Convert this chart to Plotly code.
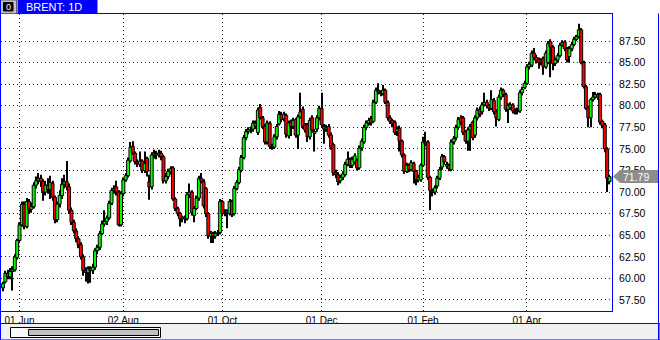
import plotly.graph_objects as go

# ---------------- data ----------------
opens = [58.9,59.6,60.6,60.2,60.8,61.0,62.4,64.4,66.2,68.6,66.0,68.9,68.0,68.3,70.8,71.3,71.6,71.2,70.0,70.8,
         70.3,71.0,69.4,66.8,68.6,69.6,70.9,71.2,70.6,67.9,66.5,65.5,64.6,63.9,62.5,60.9,60.7,61.1,60.9,61.3,
         63.2,63.6,65.2,66.3,
         66.6,67.0,68.7,70.2,70.6,70.0,66.2,69.8,71.4,71.9,73.6,75.3,74.5,73.5,73.2,73.6,72.5,73.9,71.2,70.6,
         74.3,74.5,74.3,74.5,74.1,71.3,71.8,72.4,72.8,69.2,68.1,67.5,66.9,67.1,66.9,69.7,70.0,67.3,68.1,69.3,
         71.6,71.2,
         70.4,67.5,64.9,65.2,64.9,65.2,65.3,68.9,67.5,67.6,67.5,68.9,67.5,70.4,71.1,72.5,74.0,76.3,77.0,77.2,
         77.3,78.0,76.9,79.8,78.6,77.6,75.8,78.0,75.3,75.2,76.4,77.9,79.0,78.5,78.9,76.5,78.1,77.6,78.4,76.6,
         78.7,79.6,
         77.8,77.8,76.4,78.6,76.8,77.3,78.6,79.7,77.6,77.3,77.6,76.6,75.5,72.3,72.0,71.3,71.7,72.0,73.2,73.8,
         73.1,73.5,73.7,72.8,75.1,75.8,77.5,78.0,78.5,78.2,80.4,81.8,81.6,81.4,81.8,80.4,78.6,78.3,78.1,77.0,
         77.4,75.9,
         74.3,72.4,73.1,72.6,73.3,72.4,71.4,71.4,73.1,75.8,75.8,71.7,70.2,70.0,70.7,71.6,72.9,74.1,73.0,73.1,
         72.6,75.8,76.3,77.5,78.6,78.6,77.0,75.9,77.2,78.1,76.6,78.6,79.6,79.3,80.1,80.4,80.0,79.7,80.6,79.3,
         78.4,81.0,81.8,81.3,
         79.6,79.8,80.1,79.4,79.3,79.4,81.5,82.1,82.6,84.5,84.7,86.1,85.6,85.4,85.3,85.5,84.5,85.0,87.4,86.8,
         84.9,85.3,85.8,87.0,87.4,86.6,85.7,86.6,87.1,87.7,88.0,88.8,85.0,82.2,79.8,78.6,80.7,81.0,81.3,81.3,
         78.2,77.8,75.0,71.2]
highs = [59.6,60.9,61.0,61.2,61.4,62.8,64.6,66.5,68.9,68.9,69.3,69.2,68.8,71.1,71.8,72.2,72.0,71.5,71.3,71.6,
         71.9,71.3,69.6,68.9,70.2,71.6,72.0,73.6,71.0,68.2,66.8,65.8,64.9,64.2,62.8,61.3,61.4,61.4,61.7,63.5,
         63.9,65.5,66.7,67.9,
         67.3,69.0,70.5,70.8,71.3,70.2,70.1,71.7,72.2,74.0,75.8,75.9,74.7,73.8,74.7,73.8,74.7,74.1,72.0,74.6,
         74.9,74.8,74.9,74.8,74.3,72.2,72.7,73.0,73.0,69.4,68.3,67.7,67.3,67.3,70.0,71.0,70.2,68.4,69.6,71.9,
         72.2,71.5,
         70.6,67.7,65.5,65.4,65.5,65.6,69.2,69.1,68.0,68.0,69.2,69.1,70.7,71.4,72.9,74.3,76.6,77.3,77.5,77.6,
         78.3,78.3,79.8,80.2,78.8,77.9,78.3,78.2,75.6,76.7,77.9,79.4,79.3,79.3,79.1,78.3,78.4,78.6,78.6,79.0,
         81.5,79.9,
         78.0,78.0,78.6,78.9,77.3,78.9,80.0,81.5,77.9,77.8,77.9,76.9,75.7,72.6,72.3,72.0,72.4,73.5,74.7,74.0,
         74.1,74.5,73.9,75.4,76.2,77.8,78.3,78.6,78.8,80.7,82.1,82.6,81.8,82.4,82.0,80.6,78.9,78.5,78.3,77.6,
         77.7,76.1,
         74.5,73.4,73.3,73.7,73.5,72.6,72.0,73.3,76.4,77.0,76.0,71.9,70.4,70.8,71.9,72.9,74.4,74.3,73.5,73.3,
         76.1,76.5,77.8,78.7,78.9,78.8,77.2,77.5,77.9,78.3,78.9,79.8,79.9,80.4,81.5,80.7,80.2,81.8,80.9,79.6,
         81.3,82.1,82.0,81.5,
         80.3,80.4,80.3,79.7,79.8,81.8,82.2,82.9,84.8,85.1,86.4,86.7,85.9,85.6,85.5,85.7,86.4,87.5,87.7,87.0,
         85.6,86.1,87.3,87.6,87.6,86.8,86.9,87.4,88.0,88.2,89.5,89.0,85.2,82.4,80.0,80.9,81.6,81.6,81.5,81.5,
         78.4,78.0,75.2,72.0]
lows = [58.5,59.4,59.9,59.9,58.6,60.8,62.2,64.2,66.0,65.7,65.8,67.5,67.6,68.1,70.4,70.9,70.6,69.0,69.6,69.8,
        69.2,69.0,66.4,66.5,68.2,69.2,70.4,70.2,67.5,66.2,65.2,64.2,63.5,62.2,60.3,59.6,59.4,59.5,60.5,61.0,
        62.8,63.3,65.0,66.0,
        66.2,66.8,68.5,69.8,69.6,66.0,66.0,69.5,71.2,71.7,73.4,74.3,73.2,72.9,72.9,72.2,72.2,71.8,69.1,70.3,
        73.9,73.8,74.0,73.7,71.0,71.0,71.5,72.0,69.0,67.8,67.2,66.0,66.5,66.4,66.7,69.3,67.3,66.5,67.9,69.0,
        71.0,68.1,
        67.1,64.6,64.1,64.1,64.6,64.9,65.1,67.2,67.2,65.8,67.3,67.1,67.3,70.2,70.9,72.3,73.8,76.0,76.7,76.8,
        77.0,77.3,76.6,78.4,77.3,75.5,75.5,75.0,74.9,75.0,76.1,77.7,78.1,78.2,76.3,76.2,76.5,77.3,76.3,75.0,
        78.5,77.3,
        76.9,75.8,76.1,76.9,74.7,77.0,78.3,77.5,75.6,77.0,76.3,74.9,71.9,71.6,70.8,71.0,71.4,71.8,73.0,72.8,
        72.8,73.2,72.5,72.6,74.8,75.6,77.2,77.7,77.7,78.0,80.2,81.3,81.1,81.2,80.2,78.3,77.9,77.5,76.6,76.5,
        74.7,74.0,
        72.1,72.2,72.3,72.4,71.0,70.8,71.1,71.2,72.9,75.3,71.4,67.9,69.5,69.7,70.4,71.4,72.6,73.2,72.7,72.4,
        72.4,75.5,76.0,77.2,77.8,76.6,75.6,74.8,74.8,76.0,76.3,78.3,78.7,79.0,79.9,79.7,79.4,79.5,79.0,77.6,
        78.2,80.7,81.0,79.3,
        78.0,79.5,79.1,79.0,79.0,79.2,81.2,81.9,82.4,84.2,84.5,85.3,84.9,84.3,84.7,83.6,84.3,84.8,83.3,84.1,
        84.6,85.0,85.6,86.8,86.3,85.0,85.0,86.3,86.9,87.5,87.8,84.8,82.0,79.5,77.5,77.5,80.5,80.8,80.7,77.8,
        77.4,74.6,70.0,70.9]
closes = [59.4,60.6,60.2,60.8,61.0,62.5,64.4,66.2,68.6,66.0,68.9,68.0,68.3,70.8,71.3,71.6,71.2,70.0,70.8,70.3,
          71.1,69.4,66.8,68.6,69.6,70.9,71.2,70.6,67.9,66.5,65.5,64.6,63.9,62.5,60.9,60.7,61.1,60.9,61.3,63.2,
          63.6,65.2,66.3,66.6,
          67.0,68.7,70.2,70.4,70.0,66.2,69.8,71.4,71.9,73.7,75.2,74.5,73.5,73.3,73.6,72.5,73.3,72.4,70.6,74.3,
          74.5,74.3,74.5,74.1,71.3,71.8,72.4,72.7,69.2,68.1,67.5,66.9,67.1,66.9,69.7,70.0,67.6,68.1,69.3,71.6,
          71.3,68.4,
          67.5,64.9,65.2,64.9,65.2,65.3,68.9,67.5,67.6,67.8,68.9,67.4,70.4,71.1,72.6,74.0,76.3,77.0,77.2,77.3,
          78.0,77.6,79.5,78.6,77.6,75.8,78.0,75.3,75.2,76.4,77.6,79.0,78.4,79.0,76.7,78.0,77.6,78.3,76.6,78.7,
          79.3,77.6,
          77.2,76.4,78.3,77.2,77.0,78.6,79.7,77.8,77.3,77.5,76.6,75.2,72.2,72.0,71.2,71.7,72.1,73.2,73.8,73.1,
          73.8,74.2,72.8,75.1,75.9,77.5,78.0,78.3,78.0,80.4,81.8,81.6,81.4,81.8,80.4,78.6,78.2,77.9,76.9,77.3,
          75.9,74.3,
          72.4,73.1,72.6,73.4,72.4,71.4,71.7,73.1,75.8,75.6,71.7,70.2,70.0,70.5,71.6,72.6,74.1,73.5,73.2,72.7,
          75.8,76.2,77.5,78.4,78.1,76.9,75.9,77.2,77.6,76.3,78.6,79.5,79.0,80.1,80.4,80.0,79.7,80.7,79.3,78.6,
          81.0,81.8,81.3,79.6,
          80.0,80.1,79.4,79.3,79.4,81.5,81.9,82.6,84.5,84.8,86.1,85.6,85.2,85.0,85.0,84.5,86.1,87.2,86.8,84.9,
          85.3,85.8,87.0,87.3,86.6,85.3,86.6,87.1,87.7,88.0,88.8,85.0,82.2,79.7,78.6,80.7,81.0,81.3,81.0,78.1,
          77.7,75.0,71.6,71.79]

bars = list(range(len(closes)))
date_tick_bars = [7, 51, 93, 135, 178, 222]
date_tick_labels = ["01 Jun", "02 Aug", "01 Oct", "01 Dec", "01 Feb", "01 Apr"]
price_ticks = [57.5, 60.0, 62.5, 65.0, 67.5, 70.0, 72.5, 75.0, 77.5, 80.0, 82.5, 85.0, 87.5]
symbol_title = "BRENT: 1D"
last_price = closes[-1]

# ---------------- layout geometry ----------------
W, H = 660, 340
ML, MR, MT, MB = 1, 48, 14, 29
PW, PH = W - ML - MR, H - MT - MB
BAR_PX = 2.36
BLUE = "#0000ff"
FONT = "Liberation Sans"


def px(x):
    return (x - ML) / PW


def py(y):
    return 1 - (y - MT) / PH


# candle parts built from the OHLC lists
body_base = [min(o, c) for o, c in zip(opens, closes)]
body_size = [max(abs(c - o), 0.06) for o, c in zip(opens, closes)]
body_color = ["#00ff00" if c >= o else "#ff0000" for o, c in zip(opens, closes)]
wick_size = [h - l for h, l in zip(highs, lows)]

fig = go.Figure()
fig.add_trace(go.Bar(x=bars, y=wick_size, base=lows, width=0.45,
                     marker=dict(color="black", line=dict(width=0)),
                     hoverinfo="skip", showlegend=False))
fig.add_trace(go.Bar(x=bars, y=body_size, base=body_base, width=1.25,
                     marker=dict(color=body_color, line=dict(color="black", width=1)),
                     hoverinfo="skip", showlegend=False))

shapes = []
# title bar
shapes.append(dict(type="rect", xref="paper", yref="paper", x0=px(0), x1=px(16.5), y0=py(13.5), y1=py(0),
                   fillcolor="#c0c0c0", line=dict(color="#606060", width=1), layer="above"))
shapes.append(dict(type="rect", xref="paper", yref="paper", x0=px(3.5), x1=px(13), y0=py(11), y1=py(2.5),
                   fillcolor="#000000", line=dict(color="#000000", width=1), layer="above"))
shapes.append(dict(type="rect", xref="paper", yref="paper", x0=px(17.5), x1=px(97.5), y0=py(13.5), y1=py(0),
                   fillcolor=BLUE, line=dict(width=0), layer="above"))
# bottom scrollbar region
shapes.append(dict(type="rect", xref="paper", yref="paper", x0=px(0), x1=px(660), y0=py(340), y1=py(323.5),
                   fillcolor="#f0f0f0", line=dict(color=BLUE, width=1), layer="above"))
shapes.append(dict(type="rect", xref="paper", yref="paper", x0=px(10.5), x1=px(160.5), y0=py(337.5), y1=py(327.5),
                   fillcolor="#f8f8f8", line=dict(color="black", width=1), layer="above"))
shapes.append(dict(type="rect", xref="paper", yref="paper", x0=px(28.5), x1=px(158.5), y0=py(335.5), y1=py(329.5),
                   fillcolor="#c0c0c0", line=dict(color="black", width=1), layer="above"))
# outer window border
shapes.append(dict(type="line", xref="paper", yref="paper", x0=px(0.5), x1=px(0.5), y0=py(0), y1=py(340),
                   line=dict(color=BLUE, width=1), layer="above"))
shapes.append(dict(type="line", xref="paper", yref="paper", x0=px(658.5), x1=px(658.5), y0=py(13.5), y1=py(340),
                   line=dict(color=BLUE, width=1), layer="above"))
# price tag
yt = 41 + (87.5 - last_price) * 8.633
path = "M {} {} L {} {} L {} {} L {} {} L {} {} Z".format(
    px(613), py(yt), px(620), py(yt - 6.5), px(658), py(yt - 6.5), px(658), py(yt + 6.5), px(620), py(yt + 6.5))
shapes.append(dict(type="path", xref="paper", yref="paper", path=path, fillcolor="#8c8c8c",
                   line=dict(width=0), layer="above"))

annotations = [
    dict(xref="paper", yref="paper", x=px(24), y=py(7), text=symbol_title, showarrow=False,
         xanchor="left", yanchor="middle", font=dict(family=FONT, size=11, color="white")),
    dict(xref="paper", yref="paper", x=px(8.3), y=py(7), text="0", showarrow=False,
         xanchor="center", yanchor="middle", font=dict(family=FONT, size=9, color="white")),
    dict(xref="paper", yref="paper", x=px(621), y=py(yt), text="{:.2f}".format(last_price), showarrow=False,
         xanchor="left", yanchor="middle", font=dict(family=FONT, size=10.5, color="white")),
]

fig.update_layout(
    width=W, height=H, margin=dict(l=ML, r=MR, t=MT, b=MB),
    paper_bgcolor="white", plot_bgcolor="white",
    barmode="overlay", showlegend=False, shapes=shapes, annotations=annotations,
    xaxis=dict(range=[-2 / BAR_PX, -2 / BAR_PX + PW / BAR_PX],
               tickvals=date_tick_bars, ticktext=date_tick_labels, ticks="",
               showgrid=True, gridcolor="#202020", griddash="1px,3px", gridwidth=1,
               showline=True, linecolor=BLUE, linewidth=1, mirror=True, zeroline=False,
               tickfont=dict(family=FONT, size=10, color="black"), ticklabelstandoff=0, fixedrange=True),
    yaxis=dict(range=[87.5 - (MT + PH - 41) / 8.633, 87.5 + (41 - MT) / 8.633], side="right",
               tickvals=price_ticks, ticktext=["{:.2f}".format(v) for v in price_ticks], ticks="",
               showgrid=True, gridcolor="#202020", griddash="1px,3px", gridwidth=1,
               showline=True, linecolor=BLUE, linewidth=1, mirror=True, zeroline=False,
               tickfont=dict(family=FONT, size=10.5, color="black"), ticklabelstandoff=4, fixedrange=True),
)

fig.write_html("out.html", config={"displayModeBar": False})
